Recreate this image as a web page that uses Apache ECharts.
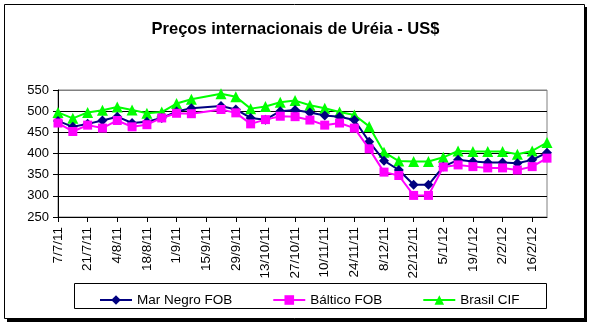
<!DOCTYPE html>
<html>
<head>
<meta charset="utf-8">
<script src="https://cdn.jsdelivr.net/npm/echarts@6/dist/echarts.min.js"></script>
<style>
html,body{margin:0;padding:0;background:#fff;}
#chart{width:591px;height:323px;}
</style>
</head>
<body>
<div id="chart"></div>
<script>
const categories = ['7/7/11','14/7/11','21/7/11','28/7/11','4/8/11','11/8/11','18/8/11','25/8/11','1/9/11','8/9/11','15/9/11','22/9/11','29/9/11','6/10/11','13/10/11','20/10/11','27/10/11','3/11/11','10/11/11','17/11/11','24/11/11','1/12/11','8/12/11','15/12/11','22/12/11','29/12/11','5/1/12','12/1/12','19/1/12','26/1/12','2/2/12','9/2/12','16/2/12','23/2/12'];
const marNegroFOB = [477,463,470,478,487,472,475,484,499,507,null,512,504,484,480,500,503,497,490,487,479,428,383,361,326,326,369,385,381,379,379,377,385,402];
const balticoFOB = [472,452,467,460,478,463,468,484,495,494,null,504,496,470,480,488,487,479,467,472,460,411,356,348,301,301,368,373,369,366,366,361,369,389];
const brasilCIF = [497,483,497,502,510,503,495,498,518,528,null,541,534,506,511,521,525,514,507,498,491,464,403,382,381,381,391,406,405,405,405,398,406,426];
const seriesNames = ['Mar Negro FOB','Báltico FOB','Brasil CIF'];
const yTicks = {min:250, max:550, interval:50};
const titleText = 'Preços internacionais de Uréia - US$';

const FONT = '"Liberation Sans", Arial, sans-serif';
const chart = echarts.init(document.getElementById('chart'), null, {renderer:'canvas'});
chart.setOption({
  animation:false,
  backgroundColor:'transparent',
  textStyle:{fontFamily:FONT},
  title:{text:titleText,left:'center',top:16,textStyle:{fontFamily:FONT,fontSize:16.5,fontWeight:'bold',color:'#000'}},
  graphic:[
    {type:'rect',z:-20,shape:{x:7,y:7,width:580,height:315},style:{fill:'#000'}},
    {type:'rect',z:-19,shape:{x:4.5,y:4.5,width:580,height:314},style:{fill:'#fff',stroke:'#000',lineWidth:1}},
    {type:'rect',z:3,shape:{x:74.5,y:283.5,width:472,height:25},style:{fill:'#fff',stroke:'#000',lineWidth:1}}
  ],
  legend:{
    z:5,left:94,top:288,itemWidth:32,itemHeight:12,itemGap:40,
    textStyle:{fontFamily:FONT,fontSize:13.5,color:'#000'},
    data:seriesNames
  },
  grid:{left:58,right:44,top:90,bottom:106,show:true,borderColor:'#808080',borderWidth:1,backgroundColor:'#fff'},
  xAxis:{
    type:'category',data:categories,boundaryGap:false,
    axisLine:{lineStyle:{color:'#000',width:1}},
    axisTick:{show:true,interval:1,length:5,lineStyle:{color:'#000'}},
    axisLabel:{interval:1,rotate:90,margin:10,fontFamily:FONT,fontSize:13.5,color:'#000'},
    splitLine:{show:false}
  },
  yAxis:{
    type:'value',min:yTicks.min,max:yTicks.max,interval:yTicks.interval,
    axisLine:{show:true,lineStyle:{color:'#000',width:1}},
    axisTick:{show:true,length:5,lineStyle:{color:'#000'}},
    axisLabel:{margin:9,fontFamily:FONT,fontSize:13,color:'#000'},
    splitLine:{show:true,lineStyle:{color:['#000','#000','#000','#000','#000','#000','#808080'],width:1}}
  },
  series:[
    {name:seriesNames[0],type:'line',data:marNegroFOB,connectNulls:true,showAllSymbol:true,symbol:'diamond',symbolSize:10,
      lineStyle:{color:'#000080',width:2},itemStyle:{color:'#000080'},z:3},
    {name:seriesNames[1],type:'line',data:balticoFOB,connectNulls:true,showAllSymbol:true,symbol:'rect',symbolSize:9,
      lineStyle:{color:'#ff00ff',width:2},itemStyle:{color:'#ff00ff'},z:4},
    {name:seriesNames[2],type:'line',data:brasilCIF,connectNulls:true,showAllSymbol:true,symbol:'triangle',symbolSize:11,
      lineStyle:{color:'#00ff00',width:2},itemStyle:{color:'#00ff00'},z:2}
  ]
});
</script>
</body>
</html>
